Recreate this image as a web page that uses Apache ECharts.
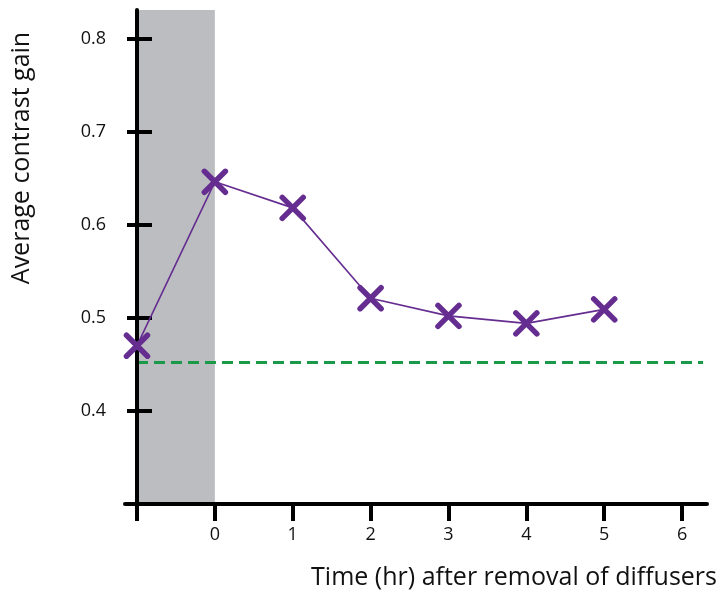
<!DOCTYPE html>
<html><head><meta charset="utf-8">
<script src="https://cdn.jsdelivr.net/npm/echarts@6/dist/echarts.min.js"></script>
<style>html,body{margin:0;padding:0;background:#fff}#c{width:722px;height:594px}</style>
</head><body><div id="c"></div>
<script>
const timeHr = [-1, 0, 1, 2, 3, 4, 5];
const contrastGain = [0.47, 0.646, 0.618, 0.521, 0.502, 0.494, 0.509];
const baselineLevel = 0.452;
const baselineSpan = [-1, 6.27];
const shadedSpan = [-1, 0];
const xTicks = [-1, 0, 1, 2, 3, 4, 5, 6];
const xTickLabels = ['0', '1', '2', '3', '4', '5', '6'];
const xLabelValues = [0, 1, 2, 3, 4, 5, 6];
const yTicks = [0.4, 0.5, 0.6, 0.7, 0.8];
const xTitle = 'Time (hr) after removal of diffusers';
const yTitle = 'Average contrast gain';

const FONT = '"Open Sans", "Noto Sans", sans-serif';
const purple = '#662d91';
const chart = echarts.init(document.getElementById('c'), null, {renderer: 'canvas'});
const yMin = 0.3, yMax = 0.8305;
const xMin = -1.154, xMax = 6.32;
const gridLeft = 125, gridRight = 15, W = 722;
const yAxisPx = 137;
const pxPerUnitX = (W - gridLeft - gridRight) / (xMax - xMin);
const innerTickLen = 15 / pxPerUnitX;
chart.setOption({
  animation: false,
  grid: {left: gridLeft, right: gridRight, top: 10, bottom: 90, containLabel: false},
  xAxis: {
    type: 'value', min: xMin, max: xMax, zlevel: 1, z: 10,
    splitLine: {show: false},
    axisLine: {show: true, onZero: false, lineStyle: {color: '#000', width: 4}},
    axisTick: {show: true, length: 17, customValues: xTicks, lineStyle: {color: '#000', width: 4}},
    axisLabel: {show: true, customValues: xLabelValues, formatter: v => xTickLabels[xLabelValues.indexOf(v)] ?? '', margin: 22, color: '#111', fontSize: 18, fontFamily: FONT}
  },
  yAxis: {
    type: 'value', min: yMin, max: yMax, zlevel: 1, z: 10,
    position: 'left', offset: gridLeft - yAxisPx,
    splitLine: {show: false},
    axisLine: {show: true, onZero: false, lineStyle: {color: '#000', width: 4}},
    axisTick: {show: true, length: 10, customValues: yTicks, lineStyle: {color: '#000', width: 4}},
    axisLabel: {show: true, customValues: yTicks, formatter: v => v.toFixed(1), margin: 31, color: '#111', fontSize: 18, fontFamily: FONT}
  },
  graphic: [
    {type: 'text', x: 22, y: 158, rotation: Math.PI / 2,
     style: {text: yTitle, textAlign: 'center', textVerticalAlign: 'middle', font: '25px ' + FONT, fill: '#111'}},
    {type: 'text', x: 717, y: 578,
     style: {text: xTitle, textAlign: 'right', textVerticalAlign: 'middle', font: '25px ' + FONT, fill: '#111'}}
  ],
  series: [
    {
      type: 'line', data: [], silent: true, z: 0,
      markArea: {silent: true, itemStyle: {color: '#bcbdc0'}, data: [[{xAxis: shadedSpan[0]}, {xAxis: shadedSpan[1]}]]}
    },
    {
      type: 'line', data: baselineSpan.map(x => [x, baselineLevel]), symbol: 'none', z: 3,
      lineStyle: {color: '#1a9a48', width: 3, type: [11, 6]}
    },
    {
      type: 'line', data: timeHr.map((t, i) => [t, contrastGain[i]]), zlevel: 2, z: 5,
      symbol: 'path://M0,0L10,10M10,0L0,10', symbolSize: 21,
      itemStyle: {color: purple, borderColor: purple, borderWidth: 5.5, borderCap: 'round'},
      lineStyle: {color: purple, width: 1.6},
      markLine: {
        silent: true, symbol: 'none', label: {show: false},
        lineStyle: {color: '#000', width: 4, type: 'solid'},
        data: yTicks.map(v => [{coord: [timeHr[0], v]}, {coord: [timeHr[0] + innerTickLen, v]}])
      }
    }
  ]
});
</script></body></html>
